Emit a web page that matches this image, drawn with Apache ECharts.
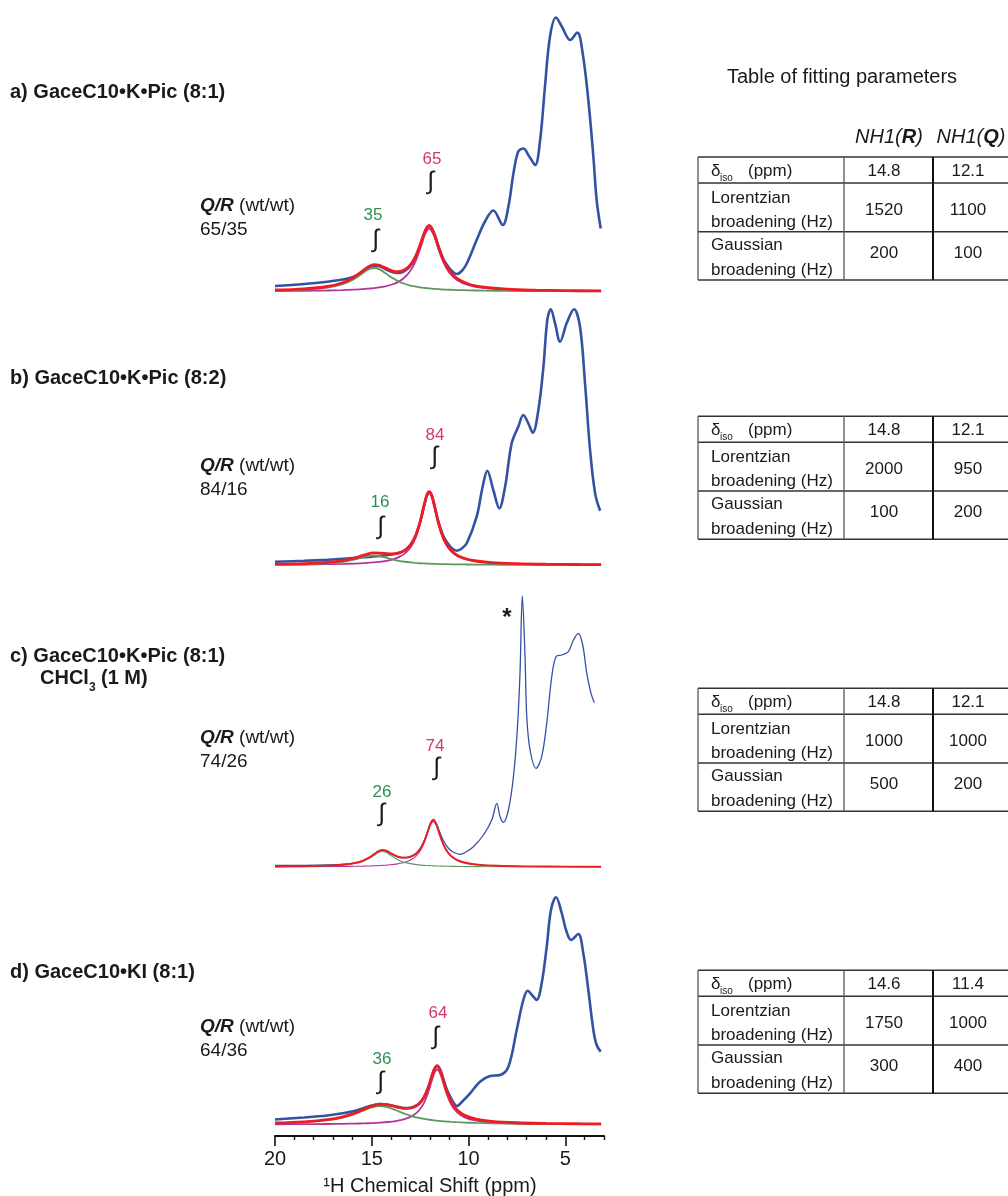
<!DOCTYPE html>
<html>
<head>
<meta charset="utf-8">
<script src="https://cdn.jsdelivr.net/npm/echarts@6/dist/echarts.min.js"></script>
<style>
  html, body { margin: 0; padding: 0; background: #ffffff; }
  #chart { width: 1008px; height: 1196px; }
</style>
</head>
<body>
<div id="chart"></div>
<script>
// ---- Spectrum data: chemical shift (ppm) and intensity (a.u.) ----

// a) GaceC10•K•Pic (8:1)
const fitPpmA   = [20, 18.5, 17.3, 16.5, 15.9, 15.45, 15.15, 14.88, 14.6, 14.3, 13.95, 13.65, 13.35, 13.05, 12.75, 12.5, 12.25, 12.03, 11.8, 11.55, 11.3, 11.0, 10.6, 10.0, 9.2, 8.0, 6.5, 5.0, 3.15];
const greenA    = [1.0, 2.0, 4.0, 7.4, 12.6, 18.5, 22.2, 23.5, 22.1, 18.4, 13.7, 10.4, 8.0, 6.2, 5.0, 4.1, 3.5, 3.05, 2.7, 2.3, 2.0, 1.75, 1.45, 1.15, 0.85, 0.6, 0.4, 0.3, 0.2];
const magentaA  = [0.45, 0.7, 1.0, 1.4, 1.9, 2.4, 2.9, 3.4, 4.1, 5.2, 7.0, 9.4, 13.2, 19.4, 29.7, 42.6, 57.0, 63.0, 56.5, 42.1, 29.3, 19.1, 11.6, 6.4, 3.4, 1.75, 0.95, 0.6, 0.4];
const redA      = [1.5, 2.7, 5.0, 8.8, 14.5, 20.9, 25.1, 26.9, 26.2, 23.6, 20.7, 19.8, 21.2, 25.6, 34.7, 46.7, 60.5, 66.1, 59.2, 44.4, 31.3, 20.9, 13.1, 7.5, 4.3, 2.3, 1.35, 0.9, 0.6];
const bluePpmA  = [20, 18.5, 17.3, 16.5, 15.9, 15.45, 15.15, 14.88, 14.6, 14.3, 13.95, 13.65, 13.35, 13.05, 12.75, 12.5, 12.25, 12.03, 11.8, 11.55, 11.3, 11.0, 10.8, 10.61, 10.35, 10.09, 9.58, 9.15, 8.72, 8.23, 7.94, 7.68, 7.43, 7.17, 6.86, 6.56, 6.30, 6.05, 5.79, 5.48, 5.18, 4.75, 4.38, 4.10, 3.81, 3.55, 3.38, 3.17];
const blueA     = [5.5, 7.5, 9.8, 12, 15, 20, 24, 25.8, 25.2, 22.5, 19.5, 18.5, 20, 24.5, 33.5, 45.5, 59.5, 65.5, 59, 45, 32.5, 23.5, 19.5, 17.5, 20.5, 28, 51.5, 70, 81, 66.5, 85, 118, 140, 143, 135, 126.5, 151.5, 205, 255, 274, 265, 251.5, 259, 238, 191.5, 135, 91.5, 63];

// b) GaceC10•K•Pic (8:2)
const fitPpmB   = [20, 18.5, 17.3, 16.5, 15.9, 15.4, 14.9, 14.4, 13.95, 13.6, 13.3, 13.0, 12.75, 12.5, 12.3, 12.15, 12.03, 11.91, 11.76, 11.56, 11.3, 11.05, 10.7, 10.3, 9.7, 8.8, 7.5, 6, 4.5, 3.15];
const greenB    = [0.46, 0.88, 1.77, 3.24, 5.41, 7.99, 9.5, 7.99, 5.65, 4.17, 3.24, 2.55, 2.12, 1.77, 1.55, 1.41, 1.31, 1.22, 1.12, 1.01, 0.88, 0.78, 0.66, 0.56, 0.44, 0.33, 0.22, 0.16, 0.11, 0.09];
const magentaB  = [0.34, 0.52, 0.78, 1.07, 1.43, 1.87, 2.55, 3.67, 5.45, 7.87, 11.4, 17.5, 26.6, 41.6, 58.0, 68.7, 72, 68.7, 58.0, 41.6, 26.1, 17.3, 10.5, 6.61, 3.80, 2.03, 1.05, 0.59, 0.38, 0.28];
const redB      = [0.8, 1.4, 2.55, 4.3, 6.85, 9.85, 12.05, 11.65, 11.1, 12.05, 14.6, 20.05, 28.7, 43.4, 59.55, 70.1, 73.3, 69.9, 59.1, 42.6, 27.0, 18.1, 11.2, 7.2, 4.25, 2.35, 1.3, 0.75, 0.5, 0.37];
const bluePpmB  = [20, 18.5, 17.3, 16.5, 15.4, 14.6, 13.95, 13.6, 13.3, 13.0, 12.75, 12.5, 12.3, 12.15, 12.03, 11.91, 11.76, 11.56, 11.3, 11.05, 10.85, 10.61, 10.35, 10.09, 9.58, 9.27, 9.03, 8.72, 8.41, 8.11, 7.77, 7.43, 7.17, 6.91, 6.68, 6.39, 6.13, 5.93, 5.75, 5.53, 5.27, 4.93, 4.55, 4.24, 3.98, 3.72, 3.46, 3.20];
const blueB     = [3.2, 4.2, 5.2, 6.2, 7.7, 9, 10.5, 12, 14.5, 20, 28.5, 43, 59, 69.5, 73, 70, 59.5, 43.5, 29, 21, 16.5, 14.3, 16.5, 21.7, 48.3, 78.3, 94.3, 75, 56.7, 78.3, 121.7, 138.3, 150, 141.7, 132.3, 155, 198.3, 245, 255.7, 241.7, 223.3, 241.7, 255.7, 238.3, 181.7, 115, 71.7, 54.3];

// c) GaceC10•K•Pic (8:1), CHCl3 (1 M)
const fitPpmC   = [20, 18.5, 17.3, 16.4, 15.85, 15.45, 15.05, 14.85, 14.65, 14.45, 14.25, 14.05, 13.85, 13.65, 13.45, 13.2, 12.95, 12.7, 12.45, 12.25, 12.1, 11.96, 11.82, 11.67, 11.52, 11.3, 11.05, 10.8, 10.5, 10.1, 9.5, 8.5, 7, 5, 3.15];
const greenC    = [0.28, 0.51, 1.0, 2.0, 3.46, 5.58, 9.45, 12.07, 14.47, 15.5, 14.47, 12.07, 9.45, 7.27, 5.58, 4.1, 3.1, 2.41, 1.91, 1.61, 1.43, 1.29, 1.17, 1.05, 0.95, 0.83, 0.72, 0.63, 0.54, 0.45, 0.35, 0.24, 0.16, 0.1, 0.07];
const magentaC  = [0.17, 0.25, 0.38, 0.54, 0.69, 0.85, 1.07, 1.21, 1.38, 1.59, 1.85, 2.18, 2.6, 3.16, 3.91, 5.28, 7.45, 11.1, 17.6, 26.1, 34.6, 42.2, 45.5, 41.7, 33.5, 21.9, 13.5, 8.82, 5.71, 3.55, 2.02, 1.01, 0.48, 0.24, 0.15];
const redC      = [0.45, 0.76, 1.38, 2.54, 4.15, 6.43, 10.5, 13.3, 15.85, 17.1, 16.3, 14.25, 12.05, 10.4, 9.5, 9.4, 10.55, 13.5, 19.5, 27.7, 36.0, 43.5, 46.7, 42.8, 34.4, 22.7, 14.2, 9.45, 6.25, 4.0, 2.37, 1.25, 0.64, 0.34, 0.22];
const bluePpmC  = [20, 18.5, 17.3, 16.4, 15.85, 15.45, 15.05, 14.85, 14.65, 14.45, 14.25, 14.05, 13.85, 13.65, 13.45, 13.2, 12.95, 12.7, 12.45, 12.25, 12.1, 11.96, 11.82, 11.67, 11.52, 11.3, 11.05, 10.8, 10.44, 10.1, 9.75, 9.23, 8.80, 8.54, 8.37, 8.20, 7.94, 7.68, 7.48, 7.34, 7.22, 7.08, 6.99, 6.82, 6.51, 6.22, 5.96, 5.70, 5.48, 5.18, 4.84, 4.58, 4.33, 4.10, 3.89, 3.67, 3.50];
const blueC     = [1.5, 1.6, 2, 2.8, 4.2, 6.5, 10.2, 13, 15.3, 16.3, 15.5, 13.5, 11.5, 10, 9.3, 9.5, 10.8, 13.8, 19.8, 28, 36.5, 44, 47.5, 44, 36.5, 26.5, 19, 15, 12.7, 15.5, 20.3, 32, 47, 63.7, 50.3, 44.7, 57, 90.3, 137, 194, 271, 210, 150, 117, 98.7, 110.3, 143.7, 190.3, 210.3, 212, 215.3, 227, 233.7, 222, 193.7, 173.7, 164.3];

// d) GaceC10•KI (8:1)
const fitPpmD   = [20, 18.5, 17.3, 16.5, 15.9, 15.4, 15.0, 14.57, 14.15, 13.75, 13.45, 13.15, 12.85, 12.55, 12.3, 12.1, 11.92, 11.77, 11.62, 11.47, 11.32, 11.12, 10.9, 10.6, 10.2, 9.6, 8.8, 7.5, 6, 4.5, 3.15];
const greenD    = [1.31, 2.35, 4.29, 6.97, 10.36, 14.16, 17.1, 18.5, 17.16, 14.24, 11.88, 9.76, 7.99, 6.58, 5.62, 4.99, 4.49, 4.13, 3.8, 3.51, 3.25, 2.94, 2.65, 2.31, 1.95, 1.54, 1.17, 0.8, 0.55, 0.4, 0.31];
const magentaD  = [0.24, 0.35, 0.51, 0.69, 0.89, 1.14, 1.42, 1.85, 2.48, 3.44, 4.56, 6.29, 9.17, 14.25, 21.7, 31.2, 42.4, 51.2, 55, 51.2, 42.4, 30.1, 20.3, 12.4, 7.18, 3.8, 2.01, 0.96, 0.52, 0.33, 0.23];
const redD      = [1.55, 2.7, 4.8, 7.66, 11.25, 15.3, 18.5, 20.35, 19.64, 17.7, 16.4, 16.05, 17.2, 20.8, 27.3, 36.2, 46.9, 55.3, 58.8, 54.7, 45.65, 33.0, 22.9, 14.7, 9.13, 5.34, 3.18, 1.76, 1.07, 0.73, 0.54];
const bluePpmD  = [20, 18.5, 17.3, 16.5, 15.9, 15.4, 15.0, 14.57, 14.15, 13.75, 13.45, 13.15, 12.85, 12.55, 12.3, 12.1, 11.92, 11.77, 11.62, 11.47, 11.32, 11.12, 10.9, 10.75, 10.61, 10.3, 9.92, 9.41, 8.89, 8.37, 7.94, 7.51, 7.17, 6.94, 6.68, 6.48, 6.22, 5.96, 5.74, 5.48, 5.18, 4.96, 4.70, 4.33, 4.07, 3.81, 3.55, 3.38, 3.17];
const blueD     = [5, 7, 9, 11.2, 13.5, 16.5, 19, 20.5, 19.8, 18, 16.8, 16.5, 17.5, 21, 27.3, 36, 46.5, 55, 58.5, 55, 46.5, 35, 26, 21, 18.5, 23.5, 31.2, 42.8, 48.5, 49.5, 57.8, 94.5, 124.5, 133.8, 128.5, 124.5, 141.2, 177.8, 214.5, 227.2, 211.2, 194.5, 184.5, 190.5, 171.2, 134.5, 94.5, 79.5, 72.8];

// ---- Axis ticks ----
const majorTicks = [20, 15, 10, 5];
const minorTicks = [19, 18, 17, 16, 14, 13, 12, 11, 9, 8, 7, 6, 4, 3];

// ---- Panel texts ----
const panelTitles = ['a) GaceC10•K•Pic (8:1)', 'b) GaceC10•K•Pic (8:2)', 'c) GaceC10•K•Pic (8:1)', 'd) GaceC10•KI (8:1)'];
const ratioLabels = ['65/35', '84/16', '74/26', '64/36'];
const qShare = ['65', '84', '74', '64'];
const rShare = ['35', '16', '26', '36'];

// ---- Fitting parameter tables: [NH1(R), NH1(Q)] ----
const deltaIso   = [['14.8', '12.1'], ['14.8', '12.1'], ['14.8', '12.1'], ['14.6', '11.4']];
const lorentzHz  = [['1520', '1100'], ['2000', '950'], ['1000', '1000'], ['1750', '1000']];
const gaussHz    = [['200', '100'], ['100', '200'], ['500', '200'], ['300', '400']];

// ---------------------------------------------------------------
const FONT = '"Liberation Sans", Arial, Helvetica, sans-serif';
const INK = '#1a1a1a';
const BLUE = '#3452a4', RED = '#ee1d24', GREEN = '#5c9a5c', MAGENTA = '#b2359f';
const PINK_TXT = '#d2386f', GREEN_TXT = '#2f8f55';

const zip = (xs, ys) => xs.map((x, i) => [x, ys[i]]);

const panels = [
  { fit: fitPpmA, g: greenA, m: magentaA, r: redA, bx: bluePpmA, b: blueA, thin: false },
  { fit: fitPpmB, g: greenB, m: magentaB, r: redB, bx: bluePpmB, b: blueB, thin: false },
  { fit: fitPpmC, g: greenC, m: magentaC, r: redC, bx: bluePpmC, b: blueC, thin: true },
  { fit: fitPpmD, g: greenD, m: magentaD, r: redD, bx: bluePpmD, b: blueD, thin: false }
];

// plot area layout (pixels)
const PLOT_LEFT = 275, PLOT_W = 329;
const gridTops = [1.5, 275, 577, 834.5];
const gridHeights = [290, 290, 290, 301.5];
const yMins = [0, 0, 0, -11.5];

const grid = gridTops.map((t, i) => ({ left: PLOT_LEFT, width: PLOT_W, top: t, height: gridHeights[i] }));

const xAxis = [];
const yAxis = [];
for (let i = 0; i < 4; i++) {
  const isBottom = i === 3;
  xAxis.push({
    gridIndex: i, type: 'value', min: 3, max: 20, inverse: true, position: 'bottom',
    show: isBottom,
    axisLine: { show: true, onZero: false, lineStyle: { color: '#111', width: 2 } },
    axisTick: { show: true, inside: false, customValues: majorTicks, length: 10, lineStyle: { color: '#111', width: 1.6 } },
    axisLabel: { show: true, customValues: majorTicks, margin: 13, fontSize: 20, fontFamily: FONT, color: INK },
    splitLine: { show: false }
  });
  yAxis.push({ gridIndex: i, type: 'value', min: yMins[i], max: 290, show: false, splitLine: { show: false } });
}
// minor ticks on the bottom scale
xAxis.push({
  gridIndex: 3, type: 'value', min: 3, max: 20, inverse: true, position: 'bottom',
  axisLine: { show: false, onZero: false },
  axisTick: { show: true, inside: false, customValues: minorTicks, length: 4, lineStyle: { color: '#111', width: 1.4 } },
  axisLabel: { show: false },
  splitLine: { show: false }
});

const series = [];
panels.forEach((p, i) => {
  const wMain = p.thin ? 1.3 : 2.6;
  const wFit = p.thin ? 1.9 : 2.8;
  const wComp = p.thin ? 1.1 : 1.8;
  const base = { type: 'line', xAxisIndex: i, yAxisIndex: i, showSymbol: false, smooth: 0.35, silent: true, animation: false };
  series.push(Object.assign({}, base, { name: 'exp' + i, data: zip(p.bx, p.b), lineStyle: { color: BLUE, width: wMain }, z: 2 }));
  series.push(Object.assign({}, base, { name: 'Q' + i, data: zip(p.fit, p.m), lineStyle: { color: MAGENTA, width: wComp }, z: 3 }));
  series.push(Object.assign({}, base, { name: 'R' + i, data: zip(p.fit, p.g), lineStyle: { color: GREEN, width: wComp }, z: 4 }));
  series.push(Object.assign({}, base, { name: 'fit' + i, data: zip(p.fit, p.r), lineStyle: { color: RED, width: wFit }, z: 5 }));
});

// ---- text and table graphics ----
function txt(x, y, text, extra) {
  const style = Object.assign({
    text: text, fill: INK, fontSize: 17, fontFamily: FONT,
    align: 'left', verticalAlign: 'middle', textAlign: 'left', textVerticalAlign: 'middle'
  }, extra || {});
  if (style.align) style.textAlign = style.align;
  return { type: 'text', x: x, y: y, silent: true, z: 100, style: style };
}
function hline(x1, x2, y, w, c) {
  return { type: 'line', silent: true, z: 100, shape: { x1: x1, y1: y, x2: x2, y2: y }, style: { stroke: c || '#333', lineWidth: w || 1.4 } };
}
function vline(x, y1, y2, w, c) {
  return { type: 'line', silent: true, z: 100, shape: { x1: x, y1: y1, x2: x, y2: y2 }, style: { stroke: c || '#333', lineWidth: w || 1.4 } };
}

const g = [];
const titleY = [92, 378, 656, 972];
const ratioY = [206, 466, 738, 1027];
const qLabelPos = [[432, 159], [435, 435], [435, 746], [438, 1013]];
const qIntPos = [[431, 182], [435, 457], [437, 768], [436, 1037]];
const rLabelPos = [[373, 215], [380, 502], [382, 792], [382, 1059]];
const rIntPos = [[376, 240], [381, 527], [382, 814], [381, 1082]];
const tableTops = [157, 416.3, 688.3, 970.3];

for (let i = 0; i < 4; i++) {
  g.push(txt(10, titleY[i], panelTitles[i], { fontSize: 20, fontWeight: 'bold' }));
  g.push(txt(200, ratioY[i], '{bi|Q/R} (wt/wt)', {
    fontSize: 19,
    rich: { bi: { fontSize: 19, fontWeight: 'bold', fontStyle: 'italic', fontFamily: FONT, fill: INK, color: INK } }
  }));
  g.push(txt(200, ratioY[i] + 24, ratioLabels[i], { fontSize: 19 }));
  g.push(txt(qLabelPos[i][0], qLabelPos[i][1], qShare[i], { fontSize: 17, fill: PINK_TXT, align: 'center' }));
  g.push(txt(qIntPos[i][0], qIntPos[i][1], '∫', { fontSize: 25, align: 'center' }));
  g.push(txt(rLabelPos[i][0], rLabelPos[i][1], rShare[i], { fontSize: 17, fill: GREEN_TXT, align: 'center' }));
  g.push(txt(rIntPos[i][0], rIntPos[i][1], '∫', { fontSize: 25, align: 'center' }));

  // table
  const T = tableTops[i];
  const L = 698, C1 = 844, C2 = 933, RGT = 1008;
  g.push(hline(L, RGT, T, 1.5));
  g.push(hline(L, RGT, T + 26, 1.5));
  g.push(hline(L, RGT, T + 74.7, 1.5));
  g.push(hline(L, RGT, T + 123, 1.5));
  g.push(vline(L, T, T + 123, 1.3, '#555'));
  g.push(vline(C1, T, T + 123, 1.3, '#555'));
  g.push(vline(C2, T, T + 123, 2, '#111'));
  g.push(txt(711, T + 14.5, 'δ', { fontSize: 17 }));
  g.push(txt(720, T + 21, 'iso', { fontSize: 10 }));
  g.push(txt(748, T + 14.5, '(ppm)', { fontSize: 17 }));
  g.push(txt(711, T + 41, 'Lorentzian', { fontSize: 17 }));
  g.push(txt(711, T + 65, 'broadening (Hz)', { fontSize: 17 }));
  g.push(txt(711, T + 88, 'Gaussian', { fontSize: 17 }));
  g.push(txt(711, T + 113, 'broadening (Hz)', { fontSize: 17 }));
  g.push(txt(884, T + 14.5, deltaIso[i][0], { fontSize: 17, align: 'center' }));
  g.push(txt(968, T + 14.5, deltaIso[i][1], { fontSize: 17, align: 'center' }));
  g.push(txt(884, T + 53, lorentzHz[i][0], { fontSize: 17, align: 'center' }));
  g.push(txt(968, T + 53, lorentzHz[i][1], { fontSize: 17, align: 'center' }));
  g.push(txt(884, T + 96, gaussHz[i][0], { fontSize: 17, align: 'center' }));
  g.push(txt(968, T + 96, gaussHz[i][1], { fontSize: 17, align: 'center' }));
}

// solvent line under panel c title
g.push(txt(40, 678, 'CHCl', { fontSize: 20, fontWeight: 'bold' }));
g.push(txt(89, 688, '3', { fontSize: 12, fontWeight: 'bold' }));
g.push(txt(101, 678, '(1 M)', { fontSize: 20, fontWeight: 'bold' }));
// solvent signal marker
g.push(txt(507, 618, '*', { fontSize: 24, fontWeight: 'bold', align: 'center' }));

// table header
g.push(txt(727, 77, 'Table of fitting parameters', { fontSize: 20 }));
g.push(txt(889, 137, '{i|NH1(}{bi|R}{i|)}', {
  fontSize: 20, align: 'center',
  rich: {
    i: { fontSize: 20, fontStyle: 'italic', fontFamily: FONT, fill: INK, color: INK },
    bi: { fontSize: 20, fontStyle: 'italic', fontWeight: 'bold', fontFamily: FONT, fill: INK, color: INK }
  }
}));
g.push(txt(971, 137, '{i|NH1(}{bi|Q}{i|)}', {
  fontSize: 20, align: 'center',
  rich: {
    i: { fontSize: 20, fontStyle: 'italic', fontFamily: FONT, fill: INK, color: INK },
    bi: { fontSize: 20, fontStyle: 'italic', fontWeight: 'bold', fontFamily: FONT, fill: INK, color: INK }
  }
}));

// x-axis title
g.push(txt(430, 1186, '¹H Chemical Shift (ppm)', { fontSize: 20, align: 'center' }));

const chart = echarts.init(document.getElementById('chart'), null, { renderer: 'canvas' });
chart.setOption({
  animation: false,
  backgroundColor: '#ffffff',
  grid: grid,
  xAxis: xAxis,
  yAxis: yAxis,
  series: series,
  graphic: { elements: g }
});
</script>
</body>
</html>
